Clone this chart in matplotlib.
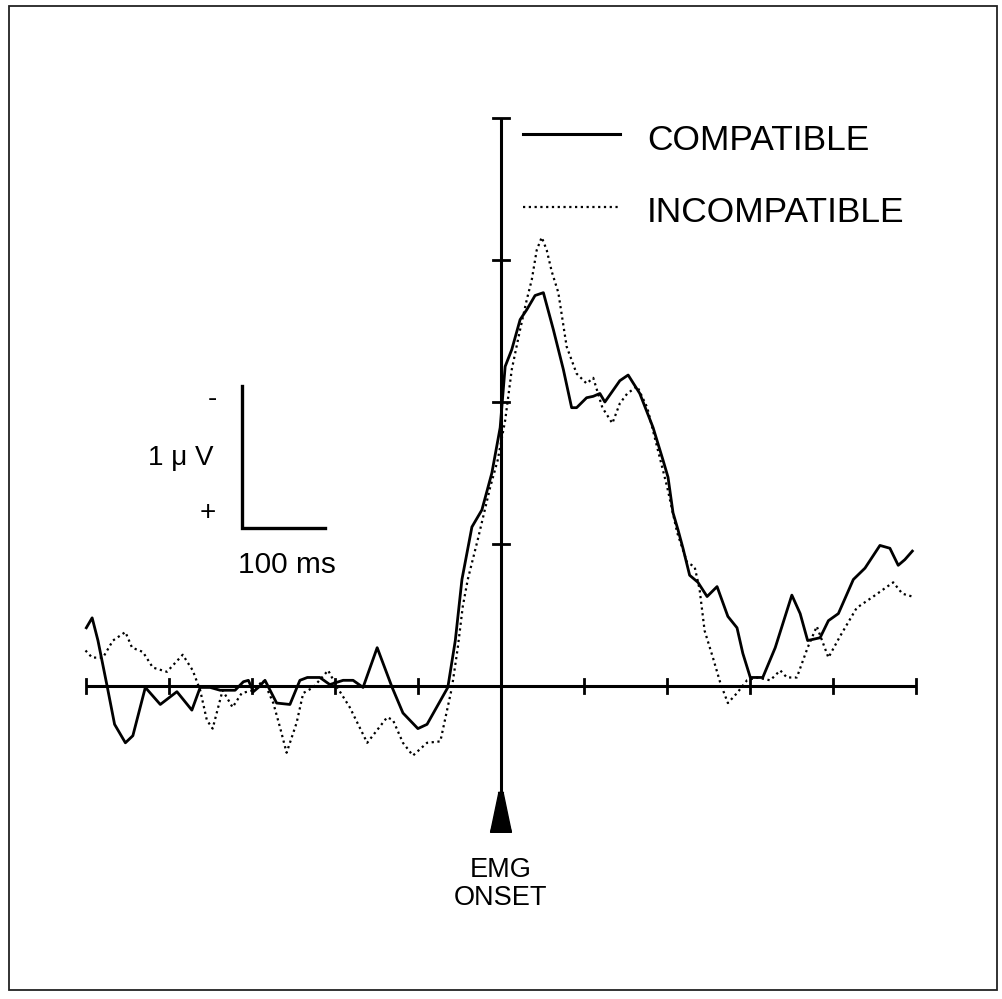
import numpy as np
import matplotlib
matplotlib.use('Agg')
import matplotlib.pyplot as plt
from matplotlib.lines import Line2D
from matplotlib.patches import Polygon, Rectangle

plt.rcParams['font.family'] = ['Liberation Sans', 'DejaVu Sans']

# time in ms relative to EMG onset, amplitude in microvolts (negative up)
t_compat = [-499, -492, -485, -474, -465, -452, -443, -428, -410, -390,
            -372, -362, -350, -338, -320, -310, -304, -298, -292, -284,
            -270, -254, -242, -233, -218, -206, -190, -178, -166, -149,
            -131, -118, -100, -89, -64, -55, -47, -35, -23, -11,
            -1, 5, 13, 23, 31, 41, 51, 63, 75, 85,
            91, 103, 111, 119, 125, 143, 153, 167, 183, 195,
            201, 207, 213, 219, 227, 237, 248, 260, 273, 284,
            291, 300, 315, 330, 350, 360, 369, 384, 394, 406,
            424, 438, 456, 468, 478, 486, 495]
v_compat = [-0.41, -0.48, -0.32, 0.00, 0.27, 0.40, 0.35, 0.01, 0.13, 0.04,
            0.17, 0.01, 0.01, 0.03, 0.03, -0.03, -0.04, 0.04, 0.01, -0.04,
            0.12, 0.13, -0.04, -0.06, -0.06, -0.01, -0.04, -0.04, 0.01, -0.27,
            0.01, 0.19, 0.30, 0.27, 0.01, -0.32, -0.75, -1.12, -1.24, -1.50,
            -1.82, -2.25, -2.37, -2.58, -2.65, -2.75, -2.77, -2.51, -2.23, -1.96,
            -1.96, -2.03, -2.04, -2.06, -2.00, -2.15, -2.19, -2.06, -1.82, -1.59,
            -1.47, -1.22, -1.10, -0.97, -0.78, -0.73, -0.63, -0.70, -0.49, -0.41,
            -0.23, -0.06, -0.06, -0.27, -0.64, -0.51, -0.32, -0.34, -0.46, -0.51,
            -0.75, -0.83, -0.99, -0.97, -0.85, -0.89, -0.95]

t_incompat = [-500, -492, -479, -467, -452, -444, -431, -419, -402, -383,
              -371, -362, -354, -347, -335, -323, -312, -298, -286, -274,
              -266, -258, -246, -238, -226, -208, -197, -182, -161, -137,
              -130, -118, -106, -89, -73, -59, -52, -46, -40, -28,
              -13, -4, 5, 13, 23, 31, 37, 43, 49, 55,
              61, 69, 79, 91, 103, 111, 122, 134, 143, 152,
              164, 176, 188, 200, 212, 224, 233, 239, 245, 255,
              264, 273, 284, 296, 308, 324, 336, 344, 356, 369,
              380, 394, 408, 428, 448, 472, 483, 495]
v_incompat = [-0.25, -0.20, -0.20, -0.32, -0.38, -0.27, -0.24, -0.13, -0.10, -0.22,
              -0.11, 0.03, 0.24, 0.30, 0.03, 0.15, 0.05, 0.03, -0.04, 0.12,
              0.29, 0.47, 0.26, 0.05, 0.01, -0.11, 0.01, 0.15, 0.40, 0.22,
              0.24, 0.40, 0.49, 0.40, 0.39, 0.01, -0.27, -0.56, -0.75, -1.03,
              -1.40, -1.59, -1.87, -2.23, -2.51, -2.72, -2.86, -3.07, -3.16, -3.07,
              -2.92, -2.77, -2.39, -2.20, -2.13, -2.17, -1.96, -1.85, -1.99, -2.06,
              -2.11, -1.96, -1.68, -1.40, -1.08, -0.87, -0.84, -0.68, -0.39, -0.20,
              -0.02, 0.12, 0.05, -0.04, -0.06, -0.04, -0.11, -0.06, -0.06, -0.27,
              -0.42, -0.20, -0.35, -0.55, -0.63, -0.73, -0.65, -0.63]

x_ticks = list(range(-500, 501, 100))
y_ticks = [-1, -2, -3, -4]

W, H = 1003, 999
fig = plt.figure(figsize=(W / 100, H / 100), dpi=100)
ax = fig.add_axes([0, 0, 1, 1])
ax.set_xlim(-501 / 0.831, (W - 501) / 0.831)
ax.set_ylim((H - 686) / 142, -686 / 142)
ax.axis('off')


def fx(px):
    return px / W


def fy(py):
    return 1 - py / H


# frame around the figure
fig.add_artist(Rectangle((fx(9), fy(990)), fx(997) - fx(9), fy(6) - fy(990),
                         transform=fig.transFigure, fill=False,
                         edgecolor='#222222', linewidth=1.3))

# axes lines
ax.plot([-500, 500], [0, 0], color='black', linewidth=2.2, solid_capstyle='butt')
ax.plot([0, 0], [-4, 0.76], color='black', linewidth=2.2, solid_capstyle='butt')
for xt in x_ticks:
    ax.plot([xt, xt], [-0.05, 0.05], color='black', linewidth=2.0)
for yt in y_ticks:
    ax.plot([-10, 10], [yt, yt], color='black', linewidth=2.0)
ax.add_patch(Polygon([[-12.5, 1.03], [12.5, 1.03], [-3, 0.75], [3, 0.75]][::1],
                     closed=True, color='black'))
ax.add_patch(Polygon([[-12.5, 1.03], [12.5, 1.03], [2.5, 0.75], [-2.5, 0.75]],
                     closed=True, color='black'))

# curves
ax.plot(t_compat, v_compat, color='black', linewidth=2.0)
ax.plot(t_incompat, v_incompat, color='black', linewidth=1.6,
        linestyle=(0, (1.0, 1.6)))

# scale bar: 100 ms x 1 uV
sx, sy = -312, -1.11
ax.plot([sx, sx, sx + 100], [sy - 1, sy, sy], color='black', linewidth=2.4,
        solid_joinstyle='miter')

# legend drawn by hand
fig.add_artist(Line2D([fx(523), fx(620)], [fy(134), fy(134)], color='black',
                      linewidth=2.2, transform=fig.transFigure))
fig.add_artist(Line2D([fx(523), fx(620)], [fy(207), fy(207)], color='black',
                      linewidth=1.6, linestyle=(0, (1.0, 1.6)),
                      transform=fig.transFigure))
fig.text(fx(647), fy(150), 'COMPATIBLE', fontsize=25.5, va='baseline', ha='left')
fig.text(fx(647), fy(222), 'INCOMPATIBLE', fontsize=25.5, va='baseline', ha='left')

# text labels
fig.text(fx(212), fy(399), '-', fontsize=20, ha='center', va='center')
fig.text(fx(213), fy(465), '1 μ V', fontsize=20, ha='right', va='baseline')
fig.text(fx(208), fy(513), '+', fontsize=20, ha='center', va='center')
fig.text(fx(287), fy(573), '100 ms', fontsize=21.5, ha='center', va='baseline')
fig.text(fx(501), fy(877), 'EMG', fontsize=19.5, ha='center', va='baseline')
fig.text(fx(501), fy(905), 'ONSET', fontsize=19.5, ha='center', va='baseline')

fig.savefig('out.png', dpi=100)
